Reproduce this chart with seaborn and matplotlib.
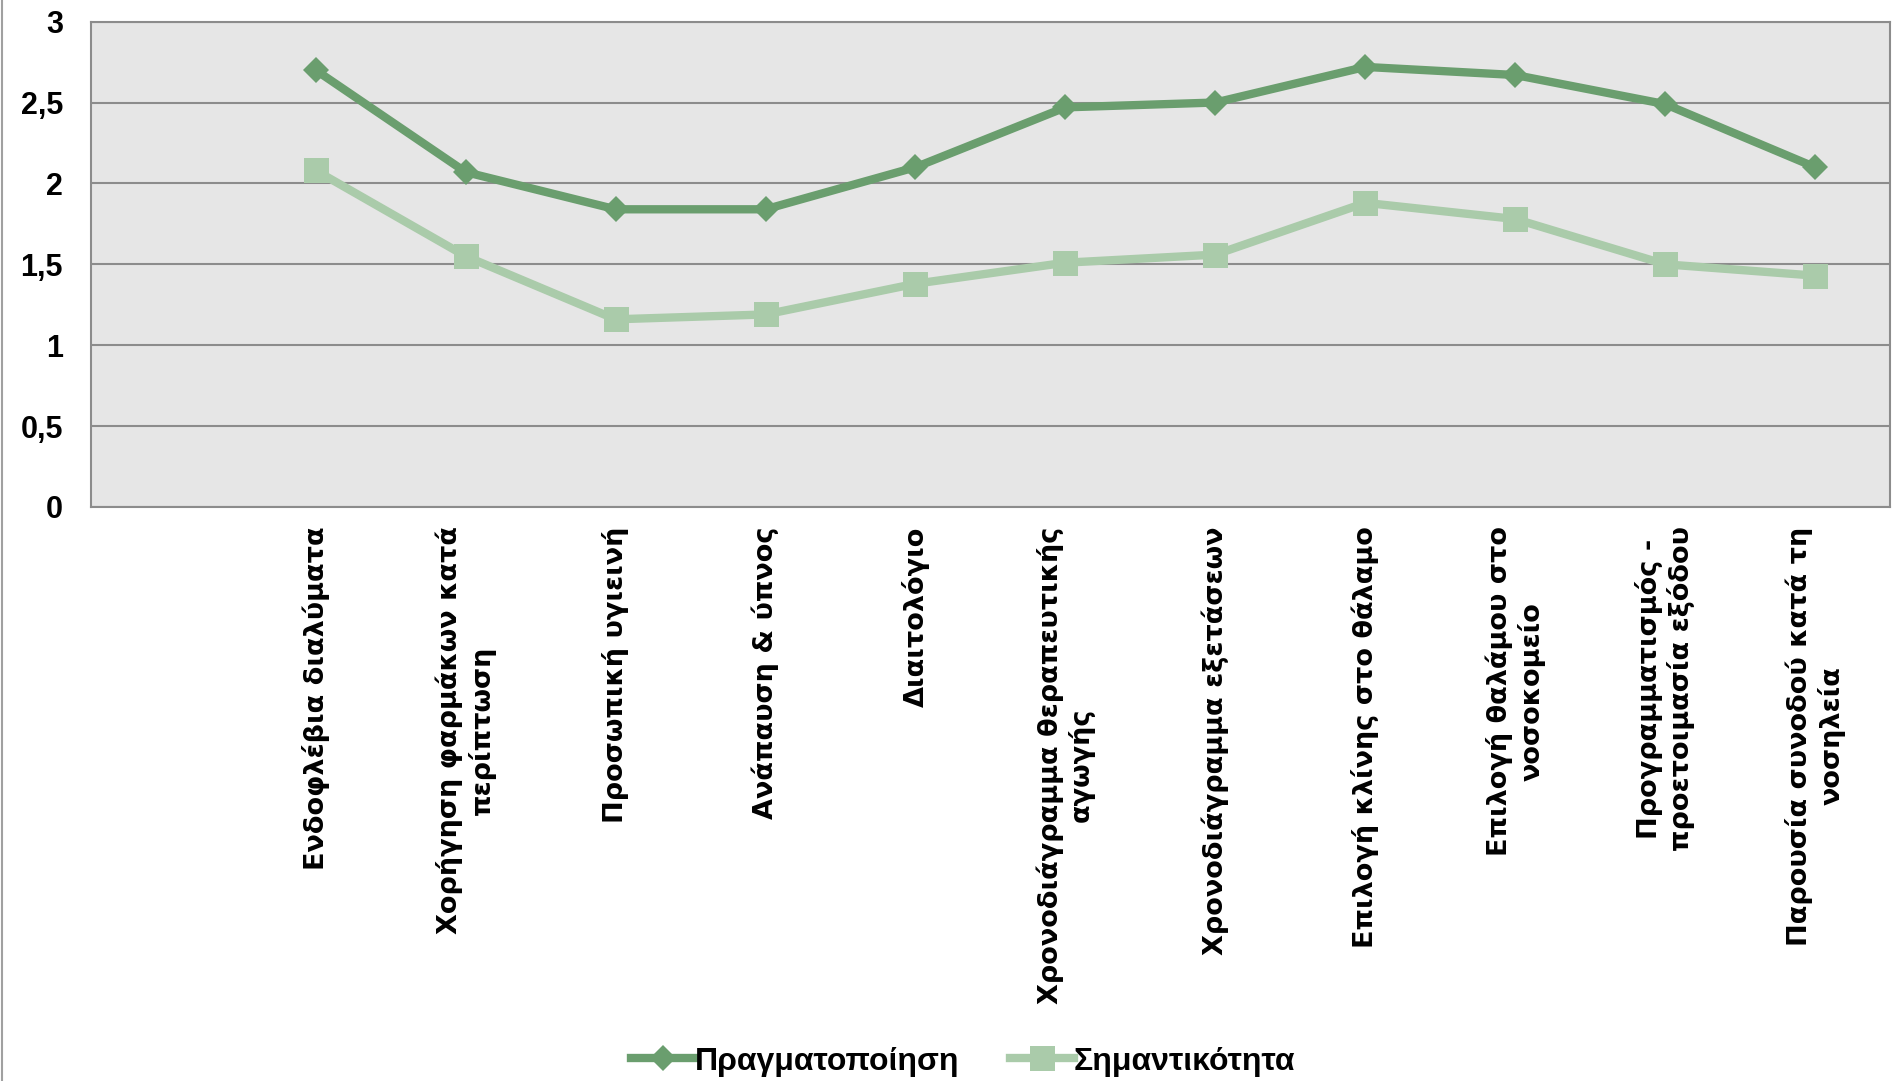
import numpy as np
import pandas as pd
import seaborn as sns
import matplotlib.pyplot as plt
from matplotlib.ticker import FuncFormatter

# categories (first slot is an empty category in the original chart)
categories = [
    "",
    "Ενδοφλέβια διαλύματα",
    "Χορήγηση φαρμάκων κατά\nπερίπτωση",
    "Προσωπική υγιεινή",
    "Ανάπαυση & ύπνος",
    "Διαιτολόγιο",
    "Χρονοδιάγραμμα θεραπευτικής\nαγωγής",
    "Χρονοδιάγραμμα εξετάσεων",
    "Επιλογή κλίνης στο θάλαμο",
    "Επιλογή θαλάμου στο\nνοσοκομείο",
    "Προγραμματισμός -\nπροετοιμασία εξόδου",
    "Παρουσία συνοδού κατά τη\nνοσηλεία",
]
pragmatopoiisi = [np.nan, 2.70, 2.07, 1.84, 1.84, 2.10, 2.47, 2.50, 2.72, 2.67, 2.49, 2.10]
simantikotita = [np.nan, 2.08, 1.55, 1.16, 1.19, 1.38, 1.51, 1.56, 1.88, 1.78, 1.50, 1.43]
series_names = ["Πραγματοποίηση", "Σημαντικότητα"]

dark = "#6a9e6e"
light = "#aacbaa"
grid_c = "#8c8c8c"

df = pd.DataFrame({
    "pos": np.arange(len(categories)),
    series_names[0]: pragmatopoiisi,
    series_names[1]: simantikotita,
})

fig = plt.figure(figsize=(18.92, 10.81), dpi=100)
ax = fig.add_axes([0.048, 0.531, 0.951, 0.449])
ax.set_facecolor("#e6e6e6")

sns.lineplot(data=df, x="pos", y=series_names[0], ax=ax, color=dark, lw=6,
             marker="D", markersize=13.5, markeredgewidth=0, label=series_names[0])
sns.lineplot(data=df, x="pos", y=series_names[1], ax=ax, color=light, lw=6,
             marker="s", markersize=18, markeredgewidth=0, label=series_names[1])

ax.set_xlim(-0.5, len(categories) - 0.5)
ax.set_ylim(0, 3)
ax.set_yticks(np.arange(0, 3.01, 0.5))
ax.yaxis.set_major_formatter(FuncFormatter(lambda v, p: f"{v:g}".replace(".", ",")))
ax.yaxis.grid(True, color=grid_c, lw=1.5)
ax.set_axisbelow(True)
ax.tick_params(axis="y", length=0, pad=20, labelsize=22)
for t in ax.get_yticklabels():
    t.set_fontweight("bold")
    t.set_family("Liberation Sans")

ax.set_xticks(df["pos"])
ax.set_xticklabels(categories, rotation=90, fontsize=19.5, fontweight="bold",
                   va="top", ha="center", multialignment="center")
ax.tick_params(axis="x", length=0, pad=14)
ax.set_xlabel("")
ax.set_ylabel("")

for s in ax.spines.values():
    s.set_color(grid_c)
    s.set_linewidth(1.5)

ax.legend_.remove()
h, l = ax.get_legend_handles_labels()
fig.legend(h, l, loc="center", bbox_to_anchor=(0.509, 0.018), ncol=2, frameon=False,
           prop={"family": "Liberation Sans", "weight": "bold", "size": 23},
           handlelength=2.0, handletextpad=0.0, columnspacing=1.6)

# chart frame on the left edge
fig.add_artist(plt.Line2D([0.001, 0.001], [0, 1], color="#a0a0a0", lw=1.5))

fig.savefig("out.png", dpi=100)
